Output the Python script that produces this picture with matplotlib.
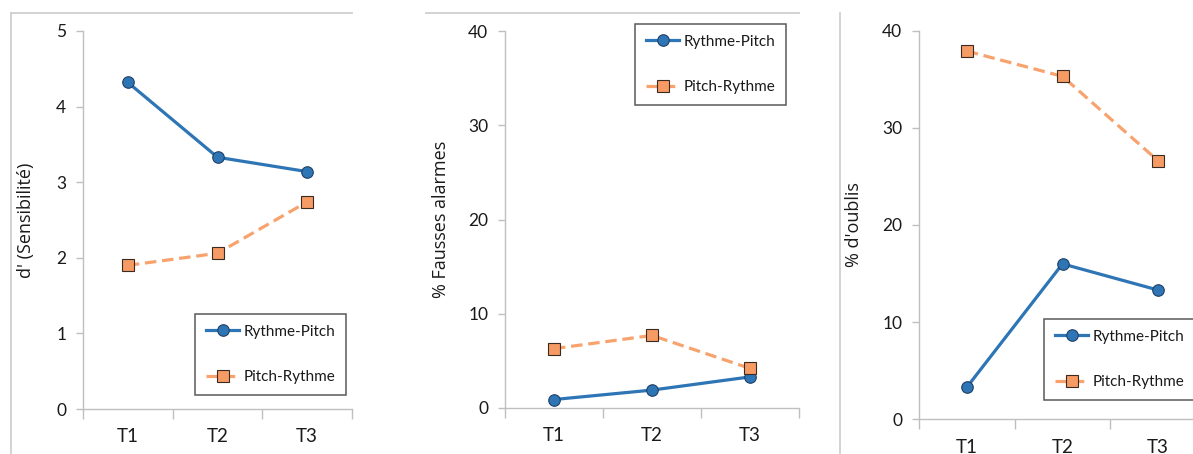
import matplotlib
matplotlib.use("Agg")
from matplotlib import pyplot as plt
from matplotlib.lines import Line2D

# Sessions
sessions = ["T1", "T2", "T3"]

# d' (sensitivity)
dprime_rp = [4.32, 3.33, 3.14]
dprime_pr = [1.90, 2.06, 2.74]

# % false alarms
fa_rp = [0.9, 1.9, 3.3]
fa_pr = [6.3, 7.7, 4.2]

# % misses
miss_rp = [3.3, 16.0, 13.3]
miss_pr = [37.9, 35.3, 26.6]

W, H = 1193, 454
BLUE = "#2E75B6"
BLUE_EDGE = "#1F3F66"
ORANGE = "#F8A36E"
ORANGE_FACE = "#F79B65"
GRID = "#BFBFBF"
FRAME = "#CFCFCF"
TEXT = "#1A1A1A"

plt.rcParams["font.family"] = ["Lato", "DejaVu Sans"]

fig = plt.figure(figsize=(W / 100, H / 100), dpi=100)


def px_axes(left, right, top, bottom):
    return fig.add_axes([left / W, 1 - bottom / H, (right - left) / W, (bottom - top) / H])


def frame_line(x0, y0, x1, y1):
    fig.add_artist(Line2D([x0 / W, x1 / W], [1 - y0 / H, 1 - y1 / H],
                          transform=fig.transFigure, color=FRAME, lw=1.3))


def draw_panel(ax, rp, pr, ymax, ystep, ylabel, legend_xy):
    x = [i + 0.5 for i in range(len(sessions))]
    ax.plot(x, rp, color=BLUE, lw=2.3, marker="o", markersize=8.3,
            markerfacecolor=BLUE, markeredgecolor=BLUE_EDGE, markeredgewidth=0.8,
            label="Rythme-Pitch", clip_on=False, zorder=3)
    ax.plot(x, pr, color=ORANGE, lw=2.3, ls=(0, (3.6, 1.8)), marker="s", markersize=8.3,
            markerfacecolor=ORANGE_FACE, markeredgecolor="#3A2A20", markeredgewidth=0.8,
            label="Pitch-Rythme", clip_on=False, zorder=4)

    ax.set_xlim(0, 3)
    ax.set_ylim(0, ymax)
    ax.set_yticks(range(0, ymax + 1, ystep))
    ax.set_xticks([0, 1, 2, 3])
    ax.set_xticklabels([])
    ax.set_xticks(x, minor=True)
    ax.set_xticklabels(sessions, minor=True)
    ax.tick_params(axis="x", which="major", length=7, width=1, color=GRID, direction="out")
    ax.tick_params(axis="x", which="minor", length=0, pad=14, labelsize=13.5, labelcolor=TEXT)
    ax.tick_params(axis="y", length=5, width=1, color=GRID, direction="out",
                   labelsize=12.5, labelcolor=TEXT, pad=7)
    for side in ["top", "right"]:
        ax.spines[side].set_visible(False)
    for side in ["left", "bottom"]:
        ax.spines[side].set_color(GRID)
        ax.spines[side].set_linewidth(1)
    ax.set_ylabel(ylabel, fontsize=13, color=TEXT, family=["Open Sans", "DejaVu Sans"])

    leg = ax.legend(loc="upper left", bbox_to_anchor=(legend_xy[0] / W, 1 - legend_xy[1] / H),
                    bbox_transform=fig.transFigure, borderaxespad=0, fancybox=False,
                    edgecolor="#595959", framealpha=1, fontsize=11, labelspacing=2.05,
                    handlelength=2.2, handletextpad=0.3, borderpad=0.7)
    leg.get_frame().set_linewidth(1.1)
    for t in leg.get_texts():
        t.set_color(TEXT)
    return ax


ax1 = px_axes(83, 352, 31, 409)
draw_panel(ax1, dprime_rp, dprime_pr, 5, 1, "d' (Sensibilité)", (195, 314))
ax1.yaxis.set_label_coords(-0.18, 0.5)

ax2 = px_axes(505, 799, 31, 408)
draw_panel(ax2, fa_rp, fa_pr, 40, 10, "% Fausses alarmes", (635, 24))
ax2.yaxis.set_label_coords(-0.187, 0.5)

ax3 = px_axes(919, 1206, 30.7, 419.3)
draw_panel(ax3, miss_rp, miss_pr, 40, 10, "% d'oublis", (1044, 319))
ax3.yaxis.set_label_coords(-0.195, 0.5)

# chart area borders
frame_line(11, 13, 352, 13)
frame_line(11, 13, 11, H)
frame_line(426, 13, 799, 13)
frame_line(840, 13, 840, H)

fig.savefig("out.png", dpi=100)
